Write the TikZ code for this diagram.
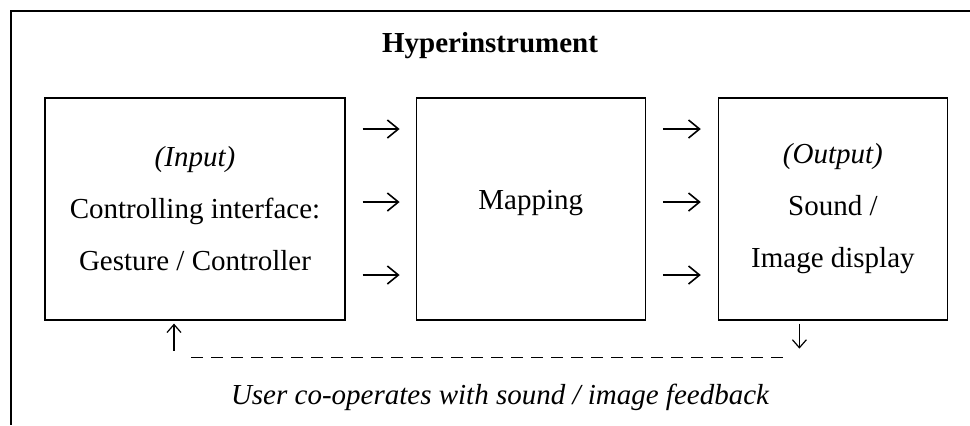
\documentclass[tikz,border=0pt]{standalone}
\usepackage{fontspec}
\setmainfont{Liberation Serif}
\usetikzlibrary{positioning,arrows.meta}

\begin{document}
\begin{tikzpicture}[x=0.5pt, y=-0.5pt, line width=0.6pt,
  block/.style={draw, shape=rectangle, minimum height=111pt, align=center,
    font=\fontsize{14.5}{26}\selectfont},
  flow/.style={-{Straight Barb[length=5.5pt, width=9pt, line width=0.8pt]}},
  back/.style={-{Straight Barb[length=4pt, width=7pt]}}]
\useasboundingbox (0,0) rectangle (970,425);
\draw[line width=0.75pt] (970,11) -- (11,11) -- (11,425);
\node[font=\fontsize{14.5}{17}\selectfont\bfseries] (title) at (490,46) {Hyperinstrument};
\node[block, minimum width=150pt] (in) at (195,209) {\textit{(Input)}\\Controlling interface:\\Gesture / Controller};
\node[block, minimum width=114.5pt, right=35pt of in, text height=10pt, text depth=9.3pt] (map) {Mapping};
\node[block, minimum width=114.5pt, right=36pt of map] (out) {\textit{(Output)}\\Sound /\\Image display};
\draw[flow, shorten <=8.5pt, shorten >=8pt] ([yshift=40pt] in.east) -- ([yshift=40pt] map.west);
\draw[flow, shorten <=8.5pt, shorten >=8pt] ([yshift=3.5pt] in.east) -- ([yshift=3.5pt] map.west);
\draw[flow, shorten <=8.5pt, shorten >=8pt] ([yshift=-33pt] in.east) -- ([yshift=-33pt] map.west);
\draw[flow, shorten <=8.5pt, shorten >=8.5pt] ([yshift=40pt] map.east) -- ([yshift=40pt] out.west);
\draw[flow, shorten <=8.5pt, shorten >=8.5pt] ([yshift=3.5pt] map.east) -- ([yshift=3.5pt] out.west);
\draw[flow, shorten <=8.5pt, shorten >=8.5pt] ([yshift=-33pt] map.east) -- ([yshift=-33pt] out.west);
\draw[back] ([xshift=-16.75pt, yshift=-1.5pt] out.south) -- ([xshift=-16.75pt, yshift=-14pt] out.south);
\draw[dash pattern=on 6pt off 4pt] ([xshift=-2pt, yshift=-18.5pt] in.south) -- ([xshift=-21.25pt, yshift=-18.5pt] out.south);
\draw[back] ([xshift=-10.5pt, yshift=-15pt] in.south) -- ([xshift=-10.5pt, yshift=-1.5pt] in.south);
\node[font=\fontsize{14.5}{17}\selectfont\itshape] (fb) at (500,397) {User co-operates with sound / image feedback};
\end{tikzpicture}
\end{document}
